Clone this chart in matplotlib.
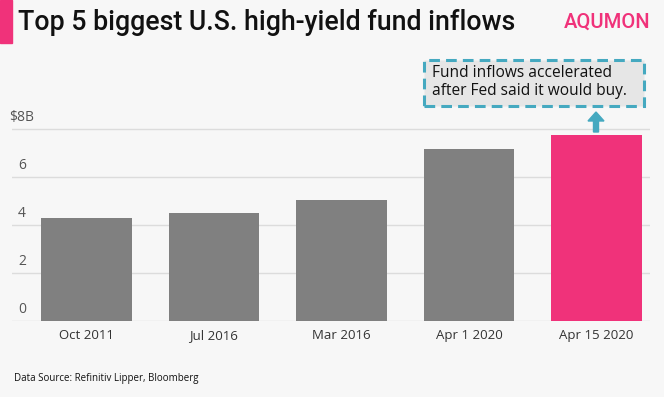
import matplotlib.pyplot as plt
from matplotlib.patches import Rectangle, FancyArrow
from matplotlib import transforms

plt.rcParams['font.family'] = ['Open Sans', 'DejaVu Sans']

# data
categories = ['Oct 2011', 'Jul 2016', 'Mar 2016', 'Apr 1 2020', 'Apr 15 2020']
inflows = [4.3, 4.5, 5.05, 7.15, 7.75]
ytick_vals = [0, 2, 4, 6, 8]
ytick_labels = ['0', '2', '4', '6', '$8B']

BG = '#f7f7f7'
PINK = '#f0327a'
GREY = '#808080'
TEAL = '#45a9c0'

W, H = 664, 397
fig = plt.figure(figsize=(W / 100, H / 100), dpi=100, facecolor=BG)

# axes placed in pixel terms
left, right, bottom, top = 12, 650, 321, 117
ax = fig.add_axes([left / W, (H - bottom) / H, (right - left) / W, (bottom - top) / H])
ax.set_facecolor(BG)

colors = [GREY] * (len(categories) - 1) + [PINK]
x = list(range(len(categories)))
ax.bar(x, inflows, width=0.71, color=colors, zorder=2)

ax.set_xlim(-0.584, 4.42)
ax.set_ylim(0, 8.5)

# gridlines
for v in ytick_vals:
    ax.axhline(v, color='#dcdcdc', lw=1, zorder=1)

# y labels sitting above gridlines
trans = transforms.blended_transform_factory(fig.transFigure, ax.transData)
for v, lab in zip(ytick_vals, ytick_labels):
    xpos = 9 if lab.startswith('$') else 18
    ax.text(xpos / W, v + 0.18, lab, transform=trans, ha='left', va='bottom',
            fontsize=10, color='#555555')

ax.set_yticks([])
ax.set_xticks(x)
ax.set_xticklabels(categories, fontsize=9.5, color='#333333')
ax.tick_params(axis='x', length=0, pad=6)
for s in ax.spines.values():
    s.set_visible(False)

# title bar
fig.patches.append(Rectangle((0, 1 - 43 / H), 12 / W, 43 / H, transform=fig.transFigure,
                             color=PINK, zorder=3))
fig.text(18 / W, 1 - 23 / H, 'Top 5 biggest U.S. high-yield fund inflows', fontsize=19.3,
         va='center', ha='left', color='#111111', family=['Roboto', 'DejaVu Sans'],
         fontweight='medium')
fig.text(650 / W, 1 - 22 / H, 'AQUMON', fontsize=14.5, va='center', ha='right',
         color=PINK, family=['Roboto', 'DejaVu Sans'], fontweight='medium')

# annotation box
bx0, by0, bx1, by1 = 424, 60, 644, 106
box = Rectangle((bx0 / W, 1 - by1 / H), (bx1 - bx0) / W, (by1 - by0) / H,
                transform=fig.transFigure, facecolor='#e6e6e6', edgecolor=TEAL,
                lw=2.2, linestyle=(0, (3.5, 2)), zorder=3)
fig.patches.append(box)
fig.text(432 / W, 1 - 82 / H, 'Fund inflows accelerated\nafter Fed said it would buy.',
         fontsize=11.2, va='center', ha='left', color='#111111', linespacing=1.1)

# arrow from the last bar up to the box
arr = FancyArrow(596 / W, 1 - 132 / H, 0, 20 / H, width=5 / W, head_width=16 / W,
                 head_length=9 / H, length_includes_head=True, color=TEAL,
                 transform=fig.transFigure)
fig.patches.append(arr)

fig.text(14 / W, 1 - 379 / H, 'Data Source: Refinitiv Lipper, Bloomberg', fontsize=7,
         va='center', ha='left', color='#111111')

fig.savefig('out.png', dpi=100, facecolor=BG)
